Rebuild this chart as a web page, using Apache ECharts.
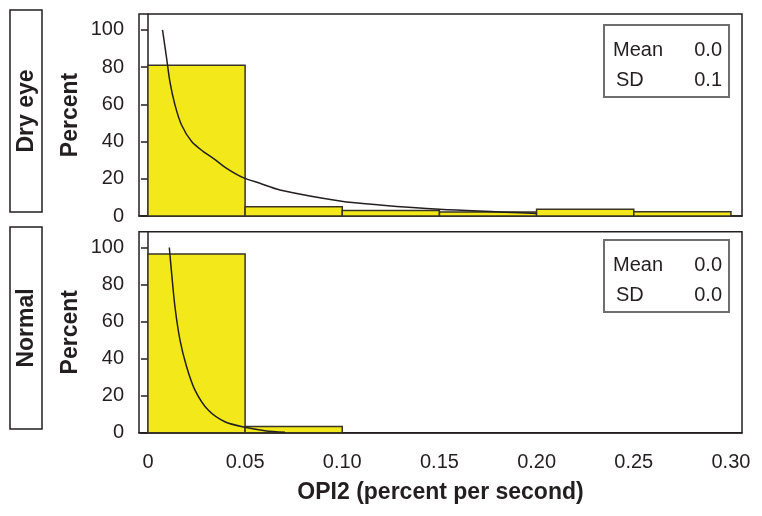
<!DOCTYPE html>
<html>
<head>
<meta charset="utf-8">
<script src="https://cdn.jsdelivr.net/npm/echarts@6/dist/echarts.min.js"></script>
<style>html,body{margin:0;padding:0;background:#fff;}#c{width:762px;height:516px;}</style>
</head>
<body>
<div id="c"></div>
<script>
// ---- data ----
var binStarts = [0, 0.05, 0.10, 0.15, 0.20, 0.25];
var binWidth = 0.05;
var dryPct = [81, 5, 3, 2.1, 3.6, 2.3];
var normPct = [96.4, 3.3, 0, 0, 0, 0];
var dryCurveX = [0.0075, 0.0096, 0.0113, 0.0139, 0.0173, 0.0225, 0.0285, 0.0336, 0.0405, 0.0490, 0.0576, 0.0679, 0.0988, 0.1193, 0.150, 0.200];
var dryCurveY = [100, 84.8, 72.2, 59.7, 48.9, 40.0, 34.6, 31.0, 25.6, 20.6, 17.6, 14.0, 8.1, 5.9, 3.6, 1.4];
var normCurveX = [0.0110, 0.0122, 0.0139, 0.0165, 0.0199, 0.0242, 0.0310, 0.0396, 0.0499, 0.0602, 0.0705];
var normCurveY = [100, 86, 68, 50, 35.6, 23, 12.2, 5.9, 2.9, 1.1, 0.2];
var xTicks = [0, 0.05, 0.10, 0.15, 0.20, 0.25, 0.30];
var yTicks = [0, 20, 40, 60, 80, 100];
var panelNames = ['Dry eye', 'Normal'];
var statLabels = ['Mean', 'SD'];
var dryStats = ['0.0', '0.1'];
var normStats = ['0.0', '0.0'];

var INK = '#231f20';
var FONT = '"Liberation Sans", Arial, sans-serif';

function histData(vals) {
  var out = [];
  for (var i = 0; i < binStarts.length; i++) {
    if (vals[i] > 0) out.push([binStarts[i], binStarts[i] + binWidth, vals[i]]);
  }
  return out;
}
function pairs(xs, ys) { return xs.map(function (x, i) { return [x, ys[i]]; }); }

function renderBar(params, api) {
  var p0 = api.coord([api.value(0), 0]);
  var p1 = api.coord([api.value(1), api.value(2)]);
  return {
    type: 'rect',
    shape: { x: p0[0], y: p1[1], width: p1[0] - p0[0], height: p0[1] - p1[1] },
    style: { fill: '#F2E81A', stroke: '#3a3522', lineWidth: 1.5 }
  };
}

var grids = [
  { left: 139, right: 20, top: 14, height: 202, show: true, borderColor: INK, borderWidth: 1.5 },
  { left: 139, right: 20, top: 231.7, height: 201, show: true, borderColor: INK, borderWidth: 1.5 }
];

function xAx(i, showLabels) {
  return {
    type: 'value', gridIndex: i, min: -0.0046, max: 0.3057,
    splitLine: { show: false },
    axisLine: { show: true, onZero: false, lineStyle: { color: INK, width: 1.5 } },
    axisTick: { show: false },
    axisLabel: {
      show: showLabels, customValues: xTicks, margin: 20,
      fontFamily: FONT, fontSize: 20, color: INK,
      formatter: function (v) { return v === 0 ? '0' : v.toFixed(2); }
    },
    name: showLabels ? 'OPI2 (percent per second)' : '',
    nameLocation: 'middle', nameGap: 48,
    nameTextStyle: { fontFamily: FONT, fontSize: 23, fontWeight: 'bold', color: INK }
  };
}
function yAx(i) {
  return {
    type: 'value', gridIndex: i, min: 0, max: 108.5,
    splitLine: { show: false },
    axisLine: { show: true, lineStyle: { color: INK, width: 1.5 } },
    axisTick: { show: true, customValues: yTicks, length: 7, lineStyle: { color: INK, width: 1.5 } },
    axisLabel: { customValues: yTicks, margin: 15, fontFamily: FONT, fontSize: 20, color: INK },
    name: 'Percent', nameLocation: 'middle', nameGap: 57, nameMoveOverlap: false,
    nameTextStyle: { fontFamily: FONT, fontSize: 23, fontWeight: 'bold', color: INK }
  };
}

var graphics = [];
var stripTops = [10, 227];
var boxTops = [25, 240];
var statsArr = [dryStats, normStats];
for (var k = 0; k < 2; k++) {
  graphics.push({ type: 'rect', shape: { x: 10, y: stripTops[k], width: 32, height: 202 },
    style: { fill: '#fff', stroke: INK, lineWidth: 1.5 } });
  graphics.push({ type: 'text', x: 27, y: stripTops[k] + 101, rotation: Math.PI / 2,
    style: { text: panelNames[k], fontFamily: FONT, fontSize: 23, fontWeight: 'bold', fill: INK,
      align: 'center', verticalAlign: 'middle' } });
  graphics.push({ type: 'rect', shape: { x: 604, y: boxTops[k], width: 125, height: 72 },
    style: { fill: '#fff', stroke: '#6e6e6e', lineWidth: 2 } });
  for (var j = 0; j < statLabels.length; j++) {
    var yy = boxTops[k] + 25 + j * 30;
    graphics.push({ type: 'text', x: j === 0 ? 613 : 616, y: yy,
      style: { text: statLabels[j], fontFamily: FONT, fontSize: 20, fill: INK, align: 'left', verticalAlign: 'middle' } });
    graphics.push({ type: 'text', x: 722, y: yy,
      style: { text: statsArr[k][j], fontFamily: FONT, fontSize: 20, fill: INK, align: 'right', verticalAlign: 'middle' } });
  }
}

var chart = echarts.init(document.getElementById('c'), null, { renderer: 'canvas' });
chart.setOption({
  animation: false,
  backgroundColor: '#fff',
  grid: grids,
  xAxis: [xAx(0, false), xAx(1, true)],
  yAxis: [yAx(0), yAx(1)],
  series: [
    { type: 'custom', xAxisIndex: 0, yAxisIndex: 0, renderItem: renderBar, data: histData(dryPct), encode: { x: [0, 1], y: 2 } },
    { type: 'custom', xAxisIndex: 1, yAxisIndex: 1, renderItem: renderBar, data: histData(normPct), encode: { x: [0, 1], y: 2 } },
    { type: 'line', xAxisIndex: 0, yAxisIndex: 0, data: pairs(dryCurveX, dryCurveY), smooth: 0.3, showSymbol: false,
      lineStyle: { color: INK, width: 1.5 }, z: 5 },
    { type: 'line', xAxisIndex: 1, yAxisIndex: 1, data: pairs(normCurveX, normCurveY), smooth: 0.3, showSymbol: false,
      lineStyle: { color: INK, width: 1.5 }, z: 5 }
  ],
  graphic: graphics
});
</script>
</body>
</html>
